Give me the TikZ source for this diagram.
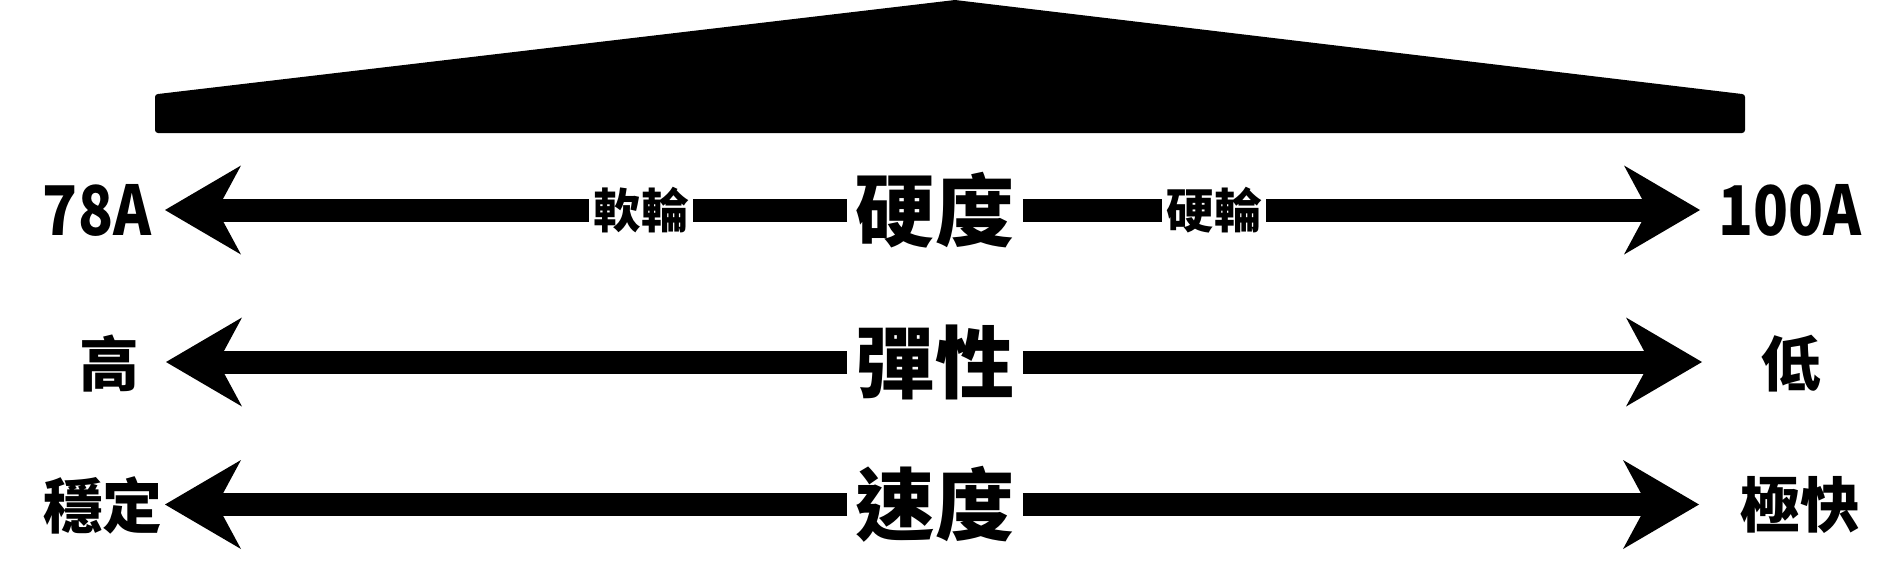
\documentclass[tikz,border=0pt]{standalone}
\usepackage{fontspec}
\newfontfamily\cjk{Noto Sans CJK TC}
\usetikzlibrary{arrows.meta}

\begin{document}
\begin{tikzpicture}[>={Stealth[length=0.76cm, width=0.89cm, inset=0.24cm, line width=0pt]},
    axis/.style={->, line width=0.23cm},
    mid/.style={font=\cjk\bfseries\fontsize{22.5}{24}\selectfont, inner xsep=0.08cm, inner ysep=0},
    side/.style={font=\cjk\bfseries\fontsize{17}{18}\selectfont, inner sep=0},
    grade/.style={font=\cjk\bfseries\fontsize{19.5}{20}\selectfont, inner sep=0, xscale=0.84, transform shape},
    sub/.style={font=\cjk\bfseries\fontsize{13.5}{14}\selectfont, fill=white, inner xsep=0.05cm, inner ysep=0.02cm}]
    \useasboundingbox (0,0) rectangle (19.03,-5.80);
    % roof
    \fill [rounded corners=0.03cm] (1.55,-0.94) rectangle (17.45,-1.33);
    \fill (1.58,-0.94) -- (9.55,0) -- (17.42,-0.94) -- cycle;
    % hardness
    \node [mid](hard) at (9.35,-2.10) {硬度};
    \node [grade](soft78) at (0.97,-2.10) {78A};
    \node [grade](hard100) at (17.90,-2.10) {100A};
    \coordinate (hardL) at (1.65,-2.10);
    \coordinate (hardR) at (17.00,-2.10);
    \draw [axis] (hard) -- (hardL);
    \draw [axis] (hard) -- (hardR);
    \node [sub](softw) at (6.41,-2.10) {軟輪};
    \node [sub](hardw) at (12.14,-2.10) {硬輪};
    % elasticity
    \node [mid](elast) at (9.35,-3.62) {彈性};
    \node [side](high) at (1.09,-3.64) {高};
    \node [side](low) at (17.91,-3.64) {低};
    \coordinate (elastL) at (1.66,-3.62);
    \coordinate (elastR) at (17.02,-3.62);
    \draw [axis] (elast) -- (elastL);
    \draw [axis] (elast) -- (elastR);
    % speed
    \node [mid](speed) at (9.35,-5.045) {速度};
    \node [side](steady) at (1.03,-5.05) {穩定};
    \node [side](fast) at (18.00,-5.05) {極快};
    \coordinate (speedL) at (1.65,-5.045);
    \coordinate (speedR) at (16.99,-5.045);
    \draw [axis] (speed) -- (speedL);
    \draw [axis] (speed) -- (speedR);
\end{tikzpicture}
\end{document}
